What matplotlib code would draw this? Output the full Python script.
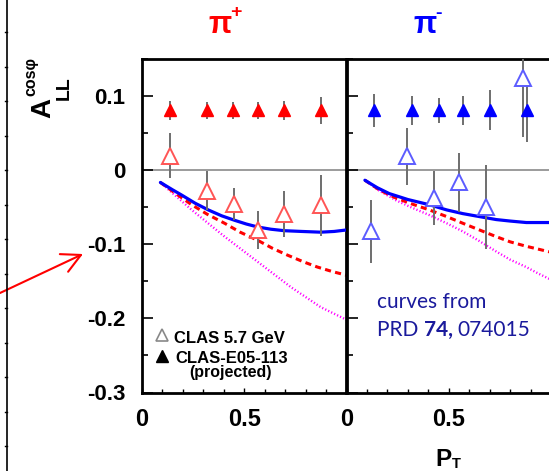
import matplotlib
matplotlib.use('Agg')
import matplotlib.pyplot as plt
from matplotlib.ticker import MultipleLocator
from matplotlib.lines import Line2D

# --- data ---
# pi+ panel
pt_proj_pip = [0.136, 0.318, 0.447, 0.568, 0.694, 0.875]
a_proj_pip = [0.08, 0.08, 0.08, 0.08, 0.08, 0.08]
e_proj_pip = [0.013, 0.012, 0.011, 0.011, 0.013, 0.018]
pt_clas_pip = [0.137, 0.319, 0.448, 0.567, 0.696, 0.874]
a_clas_pip = [0.019, -0.028, -0.046, -0.081, -0.059, -0.048]
e_clas_pip = [0.030, 0.026, 0.021, 0.025, 0.031, 0.041]
# pi- panel
pt_proj_pim = [0.134, 0.322, 0.450, 0.570, 0.701, 0.884]
a_proj_pim = [0.08, 0.08, 0.08, 0.08, 0.08, 0.08]
e_proj_pim = [0.022, 0.019, 0.017, 0.019, 0.027, 0.042]
pt_clas_pim = [0.119, 0.298, 0.429, 0.552, 0.683, 0.862]
a_clas_pim = [-0.083, 0.018, -0.038, -0.017, -0.050, 0.124]
e_clas_pim = [0.043, 0.038, 0.036, 0.040, 0.056, 0.080]

# theory curves (PRD 74, 074015)
cx_blue_pip = [0.09, 0.15, 0.194, 0.26, 0.324, 0.39, 0.453, 0.51, 0.566, 0.63, 0.696, 0.78, 0.874, 0.94, 1.0]
cy_blue_pip = [-0.017, -0.027, -0.034, -0.045, -0.054, -0.062, -0.068, -0.073, -0.077, -0.080, -0.082, -0.083, -0.084, -0.083, -0.081]
cx_red_pip = [0.09, 0.16, 0.243, 0.32, 0.404, 0.48, 0.566, 0.64, 0.712, 0.79, 0.858, 0.93, 1.0]
cy_red_pip = [-0.017, -0.031, -0.047, -0.060, -0.072, -0.084, -0.095, -0.106, -0.115, -0.124, -0.131, -0.137, -0.142]
cx_mag_pip = [0.09, 0.243, 0.404, 0.566, 0.728, 0.874, 1.0]
cy_mag_pip = [-0.017, -0.054, -0.090, -0.124, -0.158, -0.185, -0.202]

cx_blue_pim = [0.09, 0.15, 0.209, 0.30, 0.405, 0.49, 0.569, 0.65, 0.732, 0.80, 0.879, 0.94, 1.0]
cy_blue_pim = [-0.014, -0.024, -0.032, -0.040, -0.047, -0.054, -0.059, -0.063, -0.067, -0.069, -0.071, -0.071, -0.071]
cx_red_pim = [0.09, 0.16, 0.242, 0.32, 0.405, 0.49, 0.569, 0.65, 0.732, 0.80, 0.879, 0.94, 1.0]
cy_red_pim = [-0.014, -0.027, -0.038, -0.046, -0.054, -0.063, -0.072, -0.081, -0.090, -0.097, -0.103, -0.107, -0.111]
cx_mag_pim = [0.09, 0.16, 0.242, 0.32, 0.405, 0.49, 0.569, 0.65, 0.732, 0.80, 0.879, 0.94, 1.0]
cy_mag_pim = [-0.014, -0.028, -0.041, -0.051, -0.061, -0.072, -0.083, -0.096, -0.110, -0.121, -0.131, -0.140, -0.148]

yticks = [-0.3, -0.2, -0.1, 0, 0.1]
ytick_labels = ['-0.3', '-0.2', '-0.1', '0', '0.1']
xticks = [0, 0.5]
xtick_labels = ['0', '0.5']

W, H = 549, 471
def fx(px):
    return px / W
def fy(py):
    return 1 - py / H

plt.rcParams['font.family'] = ['Liberation Sans', 'DejaVu Sans']
plt.rcParams['font.weight'] = 'bold'

fig = plt.figure(figsize=(5.49, 4.71), dpi=100)
ax1 = fig.add_axes([fx(142), fy(392.5), 204.5 / W, 334 / H])
ax2 = fig.add_axes([fx(346.5), fy(392.5), 204.5 / W, 334 / H])

GRAY = '#6e6e6e'

def panel(ax, pp, ap, ep, pc, ac, ec, col, light, curves):
    ax.axhline(0, color='#808080', lw=1.1, zorder=1)
    bx, by, rx, ry, mx, my = curves
    ax.plot(mx, my, color='#ff00ff', lw=1.7, ls=(0, (0.5, 0.9)), zorder=2)
    ax.plot(rx, ry, color='red', lw=2.2, ls=(0, (2.0, 1.4)), zorder=2)
    ax.plot(bx, by, color='blue', lw=2.3, zorder=3, solid_capstyle='round')
    ax.errorbar(pc, ac, yerr=ec, fmt='none', ecolor=GRAY, elinewidth=1.4, zorder=4)
    ax.errorbar(pp, ap, yerr=ep, fmt='none', ecolor=GRAY, elinewidth=1.4, zorder=4)
    ax.plot(pc, ac, ls='none', marker='^', ms=11, mfc='white', mec=light, mew=1.4, zorder=5)
    ax.plot(pp, ap, ls='none', marker='^', ms=9, mfc=col, mec=col, zorder=5)
    ax.set_xlim(0, 1)
    ax.set_ylim(-0.3, 0.15)
    ax.set_xticks(xticks)
    ax.set_xticklabels(xtick_labels)
    ax.xaxis.set_minor_locator(MultipleLocator(0.1))
    ax.set_yticks(yticks)
    ax.yaxis.set_minor_locator(MultipleLocator(0.05))
    ax.tick_params(which='both', direction='in', top=False, right=False)
    ax.tick_params(axis='y', which='major', length=8, width=1.2, pad=12, labelsize=16)
    ax.tick_params(axis='y', which='minor', length=4.5, width=1.2)
    ax.tick_params(axis='x', which='major', length=3.5, width=1.0, pad=11, labelsize=17)
    ax.tick_params(axis='x', which='minor', length=3, width=1.0)
    for s in ax.spines.values():
        s.set_linewidth(2.0)

panel(ax1, pt_proj_pip, a_proj_pip, e_proj_pip, pt_clas_pip, a_clas_pip, e_clas_pip,
      'red', '#ff5555',
      (cx_blue_pip, cy_blue_pip, cx_red_pip, cy_red_pip, cx_mag_pip, cy_mag_pip))
panel(ax2, pt_proj_pim, a_proj_pim, e_proj_pim, pt_clas_pim, a_clas_pim, e_clas_pim,
      'blue', '#5c5cff',
      (cx_blue_pim, cy_blue_pim, cx_red_pim, cy_red_pim, cx_mag_pim, cy_mag_pim))
ax1.set_yticklabels(ytick_labels)
ax2.set_yticklabels([])

# legend inside left panel
ax1.plot([0.098], [0.172], transform=ax1.transAxes, marker='^', ms=9, mfc='white',
         mec='#888888', mew=1.2, clip_on=False)
ax1.plot([0.100], [0.110], transform=ax1.transAxes, marker='^', ms=8, color='black',
         clip_on=False)
ax1.text(0.156, 0.148, 'CLAS 5.7 GeV', transform=ax1.transAxes, fontsize=12,
         fontweight='bold', va='baseline')
ax1.text(0.161, 0.088, 'CLAS-E05-113', transform=ax1.transAxes, fontsize=12,
         fontweight='bold', va='baseline')
ax1.text(0.435, 0.046, '(projected)', transform=ax1.transAxes, fontsize=11.5,
         fontweight='bold', va='baseline', ha='center')

# titles
fig.text(fx(220), fy(25), '\u03c0', color='red', fontsize=22, fontweight='bold',
         ha='center', va='center')
fig.text(fx(236), fy(12), '+', color='red', fontsize=14, fontweight='bold',
         ha='center', va='center')
fig.text(fx(425), fy(25), '\u03c0', color='blue', fontsize=22, fontweight='bold',
         ha='center', va='center')
fig.text(fx(439), fy(13), '-', color='blue', fontsize=14, fontweight='bold',
         ha='center', va='center')

# y label  A_LL^cos(phi)
fig.text(fx(43), fy(108), 'A', fontsize=20, fontweight='bold', rotation=90,
         ha='center', va='center')
fig.text(fx(31), fy(76), 'cos\u03c6', fontsize=11.5, fontweight='bold', rotation=90,
         ha='center', va='center')
fig.text(fx(64), fy(88), 'LL', fontsize=14, fontweight='bold', rotation=90,
         ha='center', va='center')

# x label P_T
fig.text(fx(443), fy(466), 'P', fontsize=17.5, fontweight='bold', ha='center',
         va='baseline')
fig.text(fx(456), fy(468.5), 'T', fontsize=10.5, fontweight='bold', ha='center',
         va='baseline')

# note on curves, pieces laid out one after the other
NAVY = '#1a1a9c'
fig.text(fx(377), fy(308), 'curves from', fontsize=15, color=NAVY,
         family='Lato', fontweight='normal', va='baseline')
renderer = fig.canvas.get_renderer()
xpos = 377
for piece, wt in [('PRD ', 'normal'), ('74, ', 'bold'), ('074015', 'normal')]:
    t = fig.text(fx(xpos), fy(336), piece, fontsize=15, color=NAVY,
                 family='Lato', fontweight=wt, va='baseline')
    xpos += t.get_window_extent(renderer).width

# slide edge line with ticks on the far left
fig.add_artist(Line2D([fx(7), fx(7)], [0, 1], color='black', lw=1.2))
for k in range(14):
    yy = 32 + 34.5 * k
    fig.add_artist(Line2D([fx(4.5), fx(7)], [fy(yy), fy(yy)], color='black', lw=1.0))

# red arrow pointing at the -0.1 label
ax1.annotate('', xy=(83, H - 254), xytext=(0, H - 293), xycoords='figure pixels',
             textcoords='figure pixels',
             arrowprops=dict(arrowstyle='->,head_length=1.35,head_width=0.7',
                             color='red', lw=1.5, mutation_scale=10,
                             shrinkA=0, shrinkB=0))

fig.savefig('out.png', dpi=100)
